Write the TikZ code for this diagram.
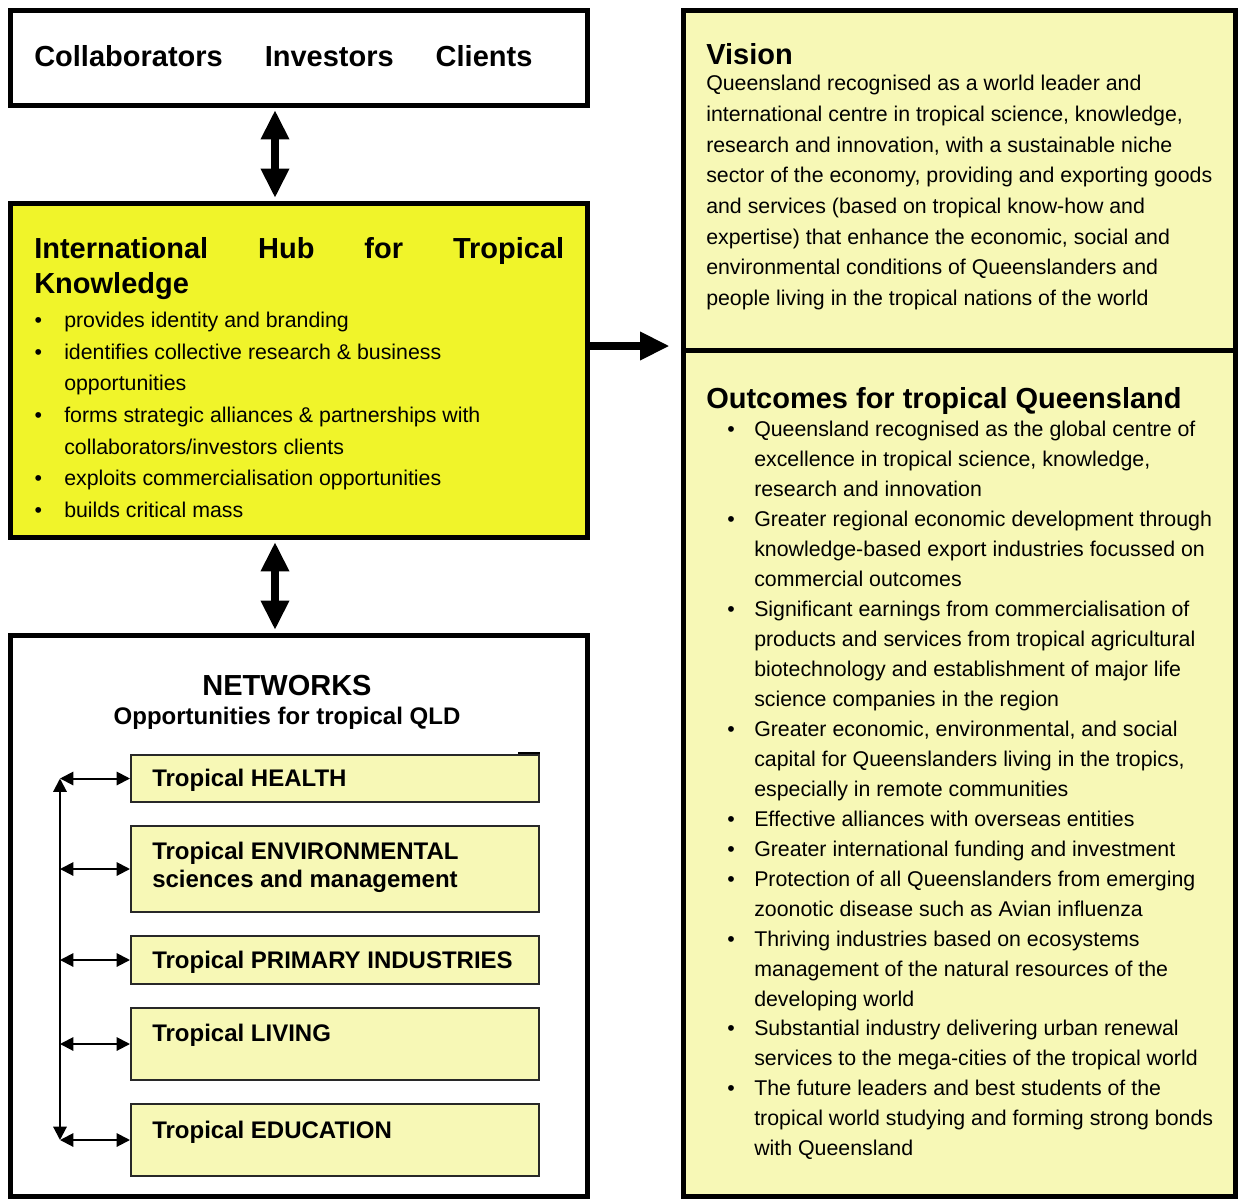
\documentclass[tikz,border=0pt]{standalone}
\usepackage{fontspec}
\setmainfont{Liberation Sans}
\usetikzlibrary{arrows.meta,fit}
\definecolor{hubyellow}{RGB}{240,244,42}
\definecolor{paleyellow}{RGB}{247,248,182}
\definecolor{subborder}{RGB}{40,40,40}
\begin{document}
\begin{tikzpicture}[x=0.75pt,y=-0.75pt,
  bigbox/.style={draw=black, line width=3.75pt, inner sep=0pt},
  subbox/.style={draw=subborder, line width=1.5pt, fill=paleyellow, inner sep=0pt},
  bigarrow/.style={line width=6pt, {Triangle[width=20pt,length=22pt]}-{Triangle[width=20pt,length=22pt]}},
  rightarrow/.style={line width=6pt, -{Triangle[width=20pt,length=22pt]}},
  thinarrow/.style={line width=1.5pt, {Triangle[width=10pt,length=10pt]}-{Triangle[width=10pt,length=10pt]}},
  titletext/.style={inner sep=0pt, font=\fontsize{21.75}{26}\selectfont\bfseries},
  subtitletext/.style={inner sep=0pt, font=\fontsize{18}{21}\selectfont\bfseries},
  bodytext/.style={inner sep=0pt, align=left, anchor=north west}
]
\useasboundingbox (0,0) rectangle (1243,1199);

% big boxes
\node[bigbox, fit={(10,10)(587,105)}] (top) {};
\node[bigbox, fill=hubyellow, fit={(10,203)(587,537)}] (hub) {};
\node[bigbox, fit={(10,635)(587,1196)}] (net) {};
\node[bigbox, fill=paleyellow, fit={(683,10)(1235,350)}] (vision) {};
\node[bigbox, fill=paleyellow, fit={(683,350)(1235,1196)}] (outc) {};

% sub boxes
\node[subbox, fit={(131,755)(539,802)}] (health) {};
\node[subbox, fit={(131,826)(539,912)}] (env) {};
\node[subbox, fit={(131,936)(539,984)}] (prim) {};
\node[subbox, fit={(131,1008)(539,1080)}] (living) {};
\node[subbox, fit={(131,1104)(539,1176)}] (edu) {};
\draw[line width=1.5pt] (health.north east) ++(-22,-1.5) -- ++(22,0);

% coordinates for connectors
\coordinate (ax) at (275,0);
\coordinate (ay) at (0,346);
\coordinate (lx) at (60,0);

\draw[bigarrow, shorten <=1.9pt, shorten >=1.9pt] (top.south -| ax) -- (hub.north -| ax);
\draw[bigarrow, shorten <=1.9pt, shorten >=1.9pt] (hub.south -| ax) -- (net.north -| ax);
\draw[rightarrow] (hub.east |- ay) -- ([xshift=-8.25pt]vision.west |- ay);

\draw[thinarrow] (health.west -| lx) -- (edu.west -| lx);
\foreach \b in {health,env,prim,living,edu}
  \draw[thinarrow] (\b.west -| lx) -- (\b.west);

% texts
\node[titletext, anchor=base west] (toptxt) at (34,66.5)
  {Collaborators\hspace{31.5pt}Investors\hspace{31.5pt}Clients};

\node[titletext, anchor=base west] (hubt1) at (34,258.5)
  {\makebox[397.5pt][s]{International\hfill Hub\hfill for\hfill Tropical}};
\node[titletext, anchor=base west] (hubt2) at (34,293) {Knowledge};
\node[bodytext, font=\fontsize{16}{23.7}\selectfont] (hubl) at (64,311.5) {%
\rule{0pt}{12pt}\llap{\textbullet\hspace{16.7pt}}provides identity and branding\\
\llap{\textbullet\hspace{16.7pt}}identifies collective research \& business\\
opportunities\\
\llap{\textbullet\hspace{16.7pt}}forms strategic alliances \& partnerships with\\
collaborators/investors clients\\
\llap{\textbullet\hspace{16.7pt}}exploits commercialisation opportunities\\
\llap{\textbullet\hspace{16.7pt}}builds critical mass};

\node[titletext, anchor=base] (nett) at (287,695.5) {NETWORKS};
\node[subtitletext, anchor=base] (nets) at (287,724) {Opportunities for tropical QLD};

\node[subtitletext, anchor=base west] (healtht) at (152,786.5) {Tropical HEALTH};
\node[subtitletext, anchor=base west] (envt1) at (152,859.5) {Tropical ENVIRONMENTAL};
\node[subtitletext, anchor=base west] (envt2) at (152,887.5) {sciences and management};
\node[subtitletext, anchor=base west] (primt) at (152,968.5) {Tropical PRIMARY INDUSTRIES};
\node[subtitletext, anchor=base west] (livingt) at (152,1041.5) {Tropical LIVING};
\node[subtitletext, anchor=base west] (edut) at (152,1138.5) {Tropical EDUCATION};

\node[titletext, anchor=base west] (visiont) at (706,64.5) {Vision};
\node[bodytext, font=\fontsize{16}{23}\selectfont] (visionb) at (706,74.5) {%
\rule{0pt}{12pt}Queensland recognised as a world leader and\\
international centre in tropical science, knowledge,\\
research and innovation, with a sustainable niche\\
sector of the economy, providing and exporting goods\\
and services (based on tropical know-how and\\
expertise) that enhance the economic, social and\\
environmental conditions of Queenslanders and\\
people living in the tropical nations of the world};

\node[titletext, anchor=base west] (outct) at (706,408.5) {Outcomes for tropical Queensland};
\node[bodytext, font=\fontsize{16}{22.47}\selectfont] (outcb) at (754,420.5) {%
\rule{0pt}{12pt}\llap{\textbullet\hspace{14.5pt}}Queensland recognised as the global centre of\\
excellence in tropical science, knowledge,\\
research and innovation\\
\llap{\textbullet\hspace{14.5pt}}Greater regional economic development through\\
knowledge-based export industries focussed on\\
commercial outcomes\\
\llap{\textbullet\hspace{14.5pt}}Significant earnings from commercialisation of\\
products and services from tropical agricultural\\
biotechnology and establishment of major life\\
science companies in the region\\
\llap{\textbullet\hspace{14.5pt}}Greater economic, environmental, and social\\
capital for Queenslanders living in the tropics,\\
especially in remote communities\\
\llap{\textbullet\hspace{14.5pt}}Effective alliances with overseas entities\\
\llap{\textbullet\hspace{14.5pt}}Greater international funding and investment\\
\llap{\textbullet\hspace{14.5pt}}Protection of all Queenslanders from emerging\\
zoonotic disease such as Avian influenza\\
\llap{\textbullet\hspace{14.5pt}}Thriving industries based on ecosystems\\
management of the natural resources of the\\
developing world\\
\llap{\textbullet\hspace{14.5pt}}Substantial industry delivering urban renewal\\
services to the mega-cities of the tropical world\\
\llap{\textbullet\hspace{14.5pt}}The future leaders and best students of the\\
tropical world studying and forming strong bonds\\
with Queensland};
\end{tikzpicture}
\end{document}
